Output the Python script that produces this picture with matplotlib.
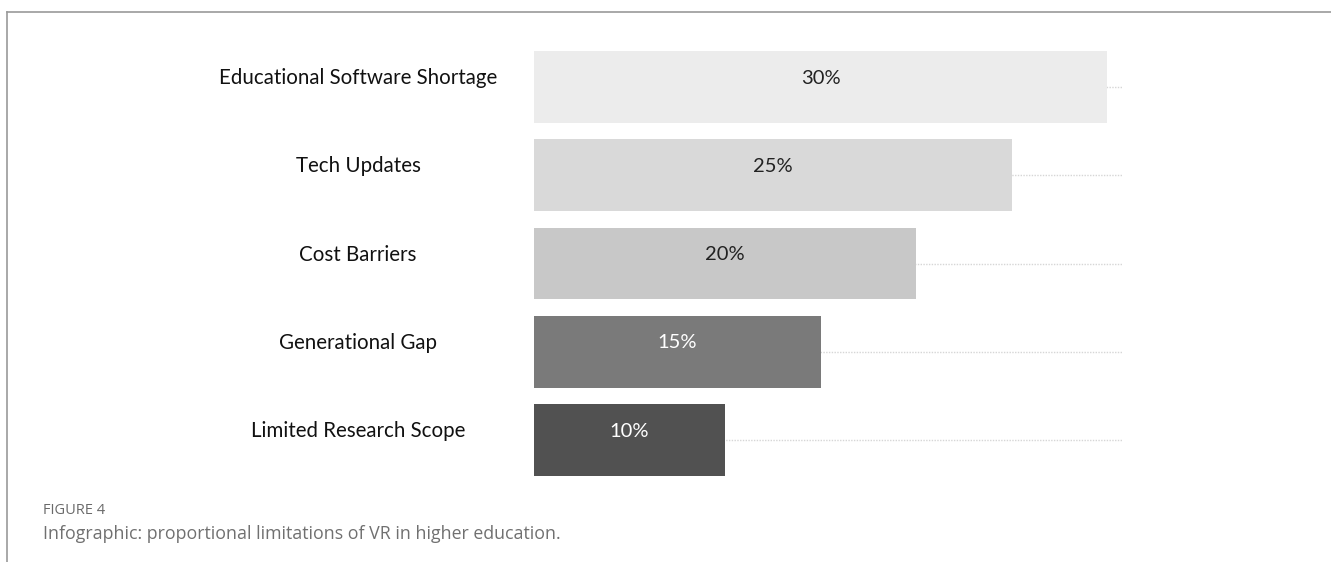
import matplotlib.pyplot as plt
from matplotlib.lines import Line2D
from matplotlib.transforms import blended_transform_factory

categories = ['Educational Software Shortage', 'Tech Updates', 'Cost Barriers',
              'Generational Gap', 'Limited Research Scope']
values = [30, 25, 20, 15, 10]
bar_colors = ['#ececec', '#d9d9d9', '#c8c8c8', '#7a7a7a', '#515151']
text_colors = ['#222222', '#222222', '#222222', '#ffffff', '#ffffff']

W, H = 1331, 562
fig = plt.figure(figsize=(W / 100, H / 100), dpi=100)

# axes placed to match the bar area in pixels
ax = fig.add_axes([534 / W, 1 - 484 / H, 588 / W, 441 / H])
pos = list(range(len(categories)))
xmax = 588 / 19.1

# dotted guide lines behind bars
for p in pos:
    ax.plot([0, xmax], [p, p], linestyle=(0, (1, 1)), color='#d6d6d6', lw=1, zorder=0)

ax.barh(pos, values, height=0.815, color=bar_colors, zorder=2)
ax.set_xlim(0, xmax)
ax.set_ylim(len(categories) - 0.5, -0.5)
ax.axis('off')

# percentage labels inside bars
for p, v, tc in zip(pos, values, text_colors):
    ax.text(v / 2, p - 0.1, f'{v}%', ha='center', va='center', color=tc,
            fontsize=14.5, family='Lato', zorder=3)

# category labels on the left
trans = blended_transform_factory(fig.transFigure, ax.transData)
for p, c in zip(pos, categories):
    ax.text(358 / W, p - 0.1, c, transform=trans, ha='center', va='center',
            fontsize=14.8, family='Lato', color='#111111')

# frame lines
fig.add_artist(Line2D([7 / W, 1], [1 - 12 / H, 1 - 12 / H], color='#9a9a9a', lw=1.2))
fig.add_artist(Line2D([7 / W, 7 / W], [0, 1 - 12 / H], color='#9a9a9a', lw=1.2))

# caption
fig.text(43 / W, 1 - 511 / H, 'FIGURE 4', fontsize=10.5, color='#6a6a6a',
         family='Open Sans', va='center')
fig.text(43 / W, 1 - 534 / H, 'Infographic: proportional limitations of VR in higher education.',
         fontsize=12.8, color='#707070', family='Open Sans', va='center')

fig.savefig('out.png', dpi=100)
